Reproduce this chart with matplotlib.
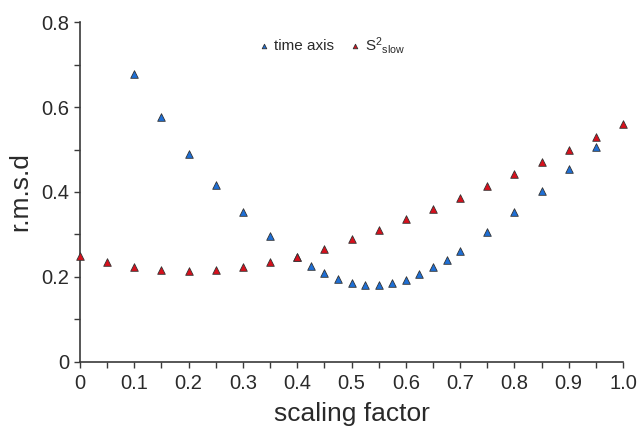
import matplotlib
matplotlib.use("Agg")
import matplotlib.pyplot as plt
from matplotlib.ticker import MultipleLocator

plt.rcParams['font.family'] = ['Liberation Sans', 'DejaVu Sans']
plt.rcParams['mathtext.default'] = 'regular'

# r.m.s.d versus scaling factor
time_x = [0.10, 0.15, 0.20, 0.25, 0.30, 0.35, 0.40, 0.425, 0.45, 0.475, 0.50,
          0.525, 0.55, 0.575, 0.60, 0.625, 0.65, 0.675, 0.70, 0.75, 0.80,
          0.85, 0.90, 0.95]
time_y = [0.678, 0.576, 0.489, 0.416, 0.353, 0.296, 0.247, 0.226, 0.209, 0.195,
          0.185, 0.180, 0.180, 0.185, 0.194, 0.207, 0.223, 0.240, 0.261, 0.305,
          0.352, 0.403, 0.454, 0.507]

slow_x = [0.00, 0.05, 0.10, 0.15, 0.20, 0.25, 0.30, 0.35, 0.40, 0.45, 0.50,
          0.55, 0.60, 0.65, 0.70, 0.75, 0.80, 0.85, 0.90, 0.95, 1.00]
slow_y = [0.249, 0.235, 0.224, 0.216, 0.214, 0.216, 0.223, 0.235, 0.248, 0.267,
          0.289, 0.311, 0.336, 0.360, 0.387, 0.415, 0.443, 0.471, 0.500, 0.529,
          0.559]

labels = ['time axis', r'S$^{2}$$_{slow}$']

text_col = '#2a2a2a'
fig = plt.figure(figsize=(6.38, 4.29), dpi=100)
ax = fig.add_axes([0.1254, 0.1562, 0.9765 - 0.1254, 0.9487 - 0.1562])

ax.scatter(time_x, time_y, marker='^', s=30, color='#1e6fd6',
           edgecolors='#333333', linewidths=0.6, label=labels[0], zorder=3,
           clip_on=False)
ax.scatter(slow_x, slow_y, marker='^', s=30, color='#d8101c',
           edgecolors='#333333', linewidths=0.6, label=labels[1], zorder=4,
           clip_on=False)

ax.set_xlim(0, 1.0)
ax.set_ylim(0, 0.8)
ax.xaxis.set_major_locator(MultipleLocator(0.1))
ax.xaxis.set_minor_locator(MultipleLocator(0.05))
ax.yaxis.set_major_locator(MultipleLocator(0.2))
ax.yaxis.set_minor_locator(MultipleLocator(0.1))


def tick_fmt(v, p):
    return '0' if abs(v) < 1e-9 else f'{v:.1f}'


ax.xaxis.set_major_formatter(plt.FuncFormatter(tick_fmt))
ax.yaxis.set_major_formatter(plt.FuncFormatter(tick_fmt))

for s in ('top', 'right'):
    ax.spines[s].set_visible(False)
for s in ('left', 'bottom'):
    ax.spines[s].set_color('#3a3a3a')
    ax.spines[s].set_linewidth(1.2)

ax.tick_params(which='both', direction='out', length=4, width=1,
               color='#3a3a3a', labelsize=14.5, labelcolor=text_col)
ax.tick_params(axis='x', pad=5)

ax.set_xlabel('scaling factor', fontsize=19, color=text_col, labelpad=6)
ax.set_ylabel('r.m.s.d', fontsize=19, color=text_col, labelpad=7)

leg = ax.legend(loc='center', bbox_to_anchor=(0.462, 0.932), ncol=2,
                frameon=False, fontsize=11, handletextpad=0.15,
                columnspacing=0.9, markerscale=0.6, borderaxespad=0,
                handlelength=1.0)
for t in leg.get_texts():
    t.set_color(text_col)

fig.savefig('out.png', dpi=100)
